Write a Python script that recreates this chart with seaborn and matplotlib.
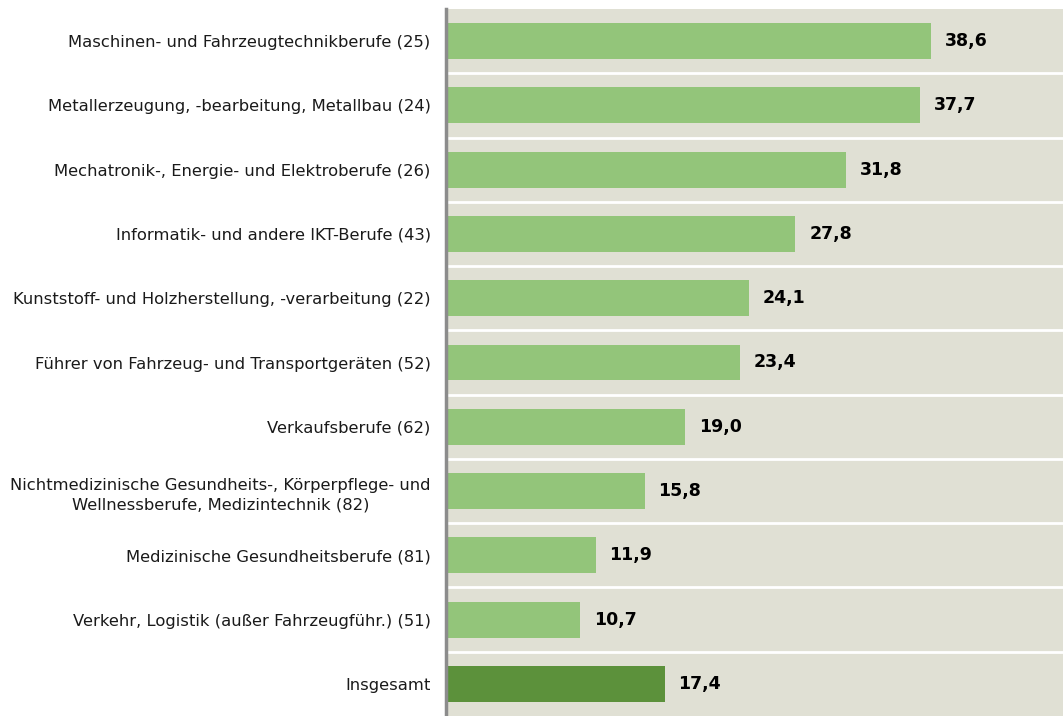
import matplotlib
matplotlib.use("Agg")
import matplotlib.pyplot as plt
import seaborn as sns
import pandas as pd

# data
categories = [
    "Maschinen- und Fahrzeugtechnikberufe (25)",
    "Metallerzeugung, -bearbeitung, Metallbau (24)",
    "Mechatronik-, Energie- und Elektroberufe (26)",
    "Informatik- und andere IKT-Berufe (43)",
    "Kunststoff- und Holzherstellung, -verarbeitung (22)",
    "Führer von Fahrzeug- und Transportgeräten (52)",
    "Verkaufsberufe (62)",
    "Nichtmedizinische Gesundheits-, Körperpflege- und\nWellnessberufe, Medizintechnik (82)",
    "Medizinische Gesundheitsberufe (81)",
    "Verkehr, Logistik (außer Fahrzeugführ.) (51)",
    "Insgesamt",
]
values = [38.6, 37.7, 31.8, 27.8, 24.1, 23.4, 19.0, 15.8, 11.9, 10.7, 17.4]
groups = ["beruf"] * 10 + ["gesamt"]

BAR_LIGHT = "#93c57a"
BAR_DARK = "#5c913b"
BG = "#e0e0d4"

df = pd.DataFrame({"kategorie": categories, "wert": values, "gruppe": groups})

sns.set_theme(style="white")
plt.rcParams["font.family"] = ["DejaVu Sans"]

fig = plt.figure(figsize=(10.63, 7.16), dpi=100)
ax = fig.add_axes([446 / 1063, 0, 1 - 446 / 1063, 707 / 716])
ax.set_facecolor(BG)

sns.barplot(data=df, x="wert", y="kategorie", hue="gruppe", orient="h",
            palette={"beruf": BAR_LIGHT, "gesamt": BAR_DARK},
            width=0.56, dodge=False, legend=False, saturation=1,
            linewidth=0, ax=ax)

# white separators between bands
for i in range(len(categories) - 1):
    ax.axhline(i + 0.5, color="white", lw=2, zorder=0.5)

for i, v in enumerate(values):
    ax.text(v + 1.1, i, f"{v:.1f}".replace(".", ","), va="center", ha="left",
            fontsize=12.5, fontweight="bold", color="black")

ax.set_xlim(0, 49.1)
ax.set_ylim(len(categories) - 0.5, -0.5)
ax.set_xlabel("")
ax.set_ylabel("")
ax.set_xticks([])
ax.tick_params(axis="y", length=0, pad=11, labelsize=11.8, labelcolor="#1a1a1a")
for lbl in ax.get_yticklabels():
    lbl.set_multialignment("center")
    lbl.set_linespacing(1.45)

for s in ["top", "right", "bottom"]:
    ax.spines[s].set_visible(False)
ax.spines["left"].set_color("#8c8c8c")
ax.spines["left"].set_linewidth(2.5)

fig.savefig("out.png", dpi=100, facecolor="white")
